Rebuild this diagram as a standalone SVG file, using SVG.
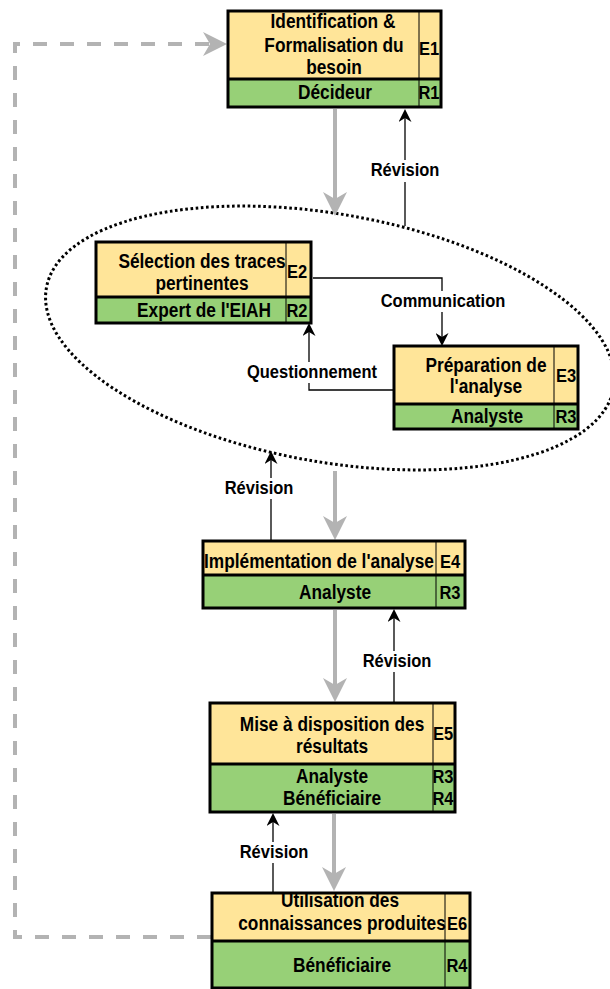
<svg xmlns="http://www.w3.org/2000/svg" width="610" height="989" viewBox="0 0 610 989">
  <style>
    .ey { fill: #FFE599; }
    .eg { fill: #97D077; }
    .frame { fill: none; stroke: #000; stroke-width: 3; }
    .sep { stroke: #000; stroke-width: 3; }
    .div { stroke: #000; stroke-width: 1; }
    .t { font-family: "Liberation Sans", Arial, Helvetica, sans-serif; font-weight: bold; font-size: 17.3px; text-anchor: middle; fill: #000; }
    .c { font-family: "Liberation Sans", Arial, Helvetica, sans-serif; font-weight: bold; font-size: 16.5px; text-anchor: middle; fill: #000; }
    .lbl { font-family: "Liberation Sans", Arial, Helvetica, sans-serif; font-weight: bold; font-size: 16.5px; text-anchor: middle; fill: #000; }
    .bg { fill: #fff; }
    .flow { fill: none; stroke: #000; stroke-width: 1.3; }
    .main { fill: none; stroke: #b3b3b3; stroke-width: 4; }
    .loop { fill: none; stroke: #b3b3b3; stroke-width: 4; stroke-dasharray: 14 13; }
    .cluster { fill: none; stroke: #000; stroke-width: 3; stroke-dasharray: 2.6 2.6; }
  </style>
  <defs>
    <marker id="ah" markerUnits="userSpaceOnUse" markerWidth="13" markerHeight="13" viewBox="0 0 13 13" refX="4" refY="6.5" orient="auto">
      <path d="M0,0 L13,6.5 L0,13 L4,6.5 Z" fill="#000"/>
    </marker>
    <marker id="ahg" markerUnits="userSpaceOnUse" markerWidth="24" markerHeight="24" viewBox="0 0 24 24" refX="7" refY="12" orient="auto">
      <path d="M0,0 L24,12 L0,24 L7,12 Z" fill="#b3b3b3"/>
    </marker>
  </defs>
  <rect width="610" height="989" fill="#fff"/>

  <!-- dotted boundary round steps E2 and E3 -->
  <g id="cluster-e2-e3">
    <ellipse class="cluster" cx="330" cy="338" rx="288" ry="124" transform="rotate(10 330 338)"/>
  </g>

  <g id="connectors">
    <!-- feedback loop from E6 back to E1 -->
    <path class="loop" d="M211,937 H15 V44 H210" marker-end="url(#ahg)"/>
    <!-- main sequence -->
    <path class="main" d="M335,109 V199" marker-end="url(#ahg)"/>
    <path class="main" d="M335,471 V523" marker-end="url(#ahg)"/>
    <path class="main" d="M335,610 V685" marker-end="url(#ahg)"/>
    <path class="main" d="M334,814 V874" marker-end="url(#ahg)"/>
    <!-- revision links -->
    <path class="flow" d="M405,226 V118" marker-end="url(#ah)"/>
    <rect class="bg" x="369" y="160" width="73" height="22"/>
    <text class="lbl" transform="translate(405,176) scale(1,1.1)">Révision</text>

    <path class="flow" d="M271,540 V460" marker-end="url(#ah)"/>
    <rect class="bg" x="223" y="478" width="73" height="21"/>
    <text class="lbl" transform="translate(259,494) scale(1,1.1)">Révision</text>

    <path class="flow" d="M394,702 V618" marker-end="url(#ah)"/>
    <rect class="bg" x="361" y="651" width="73" height="21"/>
    <text class="lbl" transform="translate(397,667) scale(1,1.1)">Révision</text>

    <path class="flow" d="M273,892 V822" marker-end="url(#ah)"/>
    <rect class="bg" x="238" y="842" width="73" height="21"/>
    <text class="lbl" transform="translate(274,858) scale(1,1.1)">Révision</text>

    <!-- links inside the boundary -->
    <path class="flow" d="M313,278 H442 V337" marker-end="url(#ah)"/>
    <rect class="bg" x="378" y="291" width="130" height="21"/>
    <text class="lbl" transform="translate(443,307) scale(1,1.1)">Communication</text>

    <path class="flow" d="M393,390 H309 V332" marker-end="url(#ah)"/>
    <rect class="bg" x="245" y="362" width="134" height="21"/>
    <text class="lbl" transform="translate(312,378) scale(1,1.1)">Questionnement</text>
  </g>

  <g id="node-e1">
    <rect class="ey" x="228" y="11" width="213" height="68"/>
    <rect class="eg" x="228" y="79" width="213" height="28"/>
    <line class="div" x1="419" y1="11" x2="419" y2="107"/>
    <line class="sep" x1="228" y1="79" x2="441" y2="79"/>
    <rect class="frame" x="228" y="11" width="213" height="96"/>
    <text class="t" transform="translate(333,28) scale(1,1.12)"><tspan x="0" y="0">Identification &amp;</tspan><tspan x="1" y="21.4">Formalisation du</tspan><tspan x="1" y="41.1">besoin</tspan></text>
    <text class="t" transform="translate(335,99) scale(1,1.12)">Décideur</text>
    <text class="c" transform="translate(429,55) scale(1,1.1)">E1</text>
    <text class="c" transform="translate(429,99) scale(1,1.1)">R1</text>
  </g>

  <g id="node-e2">
    <rect class="ey" x="96" y="242" width="215" height="55"/>
    <rect class="eg" x="96" y="297" width="215" height="26"/>
    <line class="div" x1="286" y1="242" x2="286" y2="323"/>
    <line class="sep" x1="96" y1="297" x2="311" y2="297"/>
    <rect class="frame" x="96" y="242" width="215" height="81"/>
    <text class="t" transform="translate(202,268) scale(1,1.12)"><tspan x="0" y="0">Sélection des traces</tspan><tspan x="0" y="19.6">pertinentes</tspan></text>
    <text class="t" transform="translate(204,317) scale(1,1.12)">Expert de l'EIAH</text>
    <text class="c" transform="translate(297,278) scale(1,1.1)">E2</text>
    <text class="c" transform="translate(297,317) scale(1,1.1)">R2</text>
  </g>

  <g id="node-e3">
    <rect class="ey" x="394" y="346" width="184" height="58"/>
    <rect class="eg" x="394" y="404" width="184" height="25"/>
    <line class="div" x1="554" y1="346" x2="554" y2="429"/>
    <line class="sep" x1="394" y1="404" x2="578" y2="404"/>
    <rect class="frame" x="394" y="346" width="184" height="83"/>
    <text class="t" transform="translate(486,372) scale(1,1.12)"><tspan x="0" y="0">Préparation de</tspan><tspan x="0" y="18.8">l'analyse</tspan></text>
    <text class="t" transform="translate(487,423) scale(1,1.12)">Analyste</text>
    <text class="c" transform="translate(566,382) scale(1,1.1)">E3</text>
    <text class="c" transform="translate(566,423) scale(1,1.1)">R3</text>
  </g>

  <g id="node-e4">
    <rect class="ey" x="203" y="541" width="262" height="34"/>
    <rect class="eg" x="203" y="575" width="262" height="33"/>
    <line class="div" x1="436" y1="541" x2="436" y2="608"/>
    <line class="sep" x1="203" y1="575" x2="465" y2="575"/>
    <rect class="frame" x="203" y="541" width="262" height="67"/>
    <text class="t" transform="translate(319,568) scale(1,1.12)">Implémentation de l'analyse</text>
    <text class="t" transform="translate(335,599) scale(1,1.12)">Analyste</text>
    <text class="c" transform="translate(450,568) scale(1,1.1)">E4</text>
    <text class="c" transform="translate(450,599) scale(1,1.1)">R3</text>
  </g>

  <g id="node-e5">
    <rect class="ey" x="210" y="703" width="245" height="61"/>
    <rect class="eg" x="210" y="764" width="245" height="48"/>
    <line class="div" x1="433" y1="703" x2="433" y2="812"/>
    <line class="sep" x1="210" y1="764" x2="455" y2="764"/>
    <rect class="frame" x="210" y="703" width="245" height="109"/>
    <text class="t" transform="translate(332,731) scale(1,1.12)"><tspan x="0" y="0">Mise à disposition des</tspan><tspan x="0" y="19.6">résultats</tspan></text>
    <text class="t" transform="translate(332,783) scale(1,1.12)"><tspan x="0" y="0">Analyste</tspan><tspan x="0" y="19.6">Bénéficiaire</tspan></text>
    <text class="c" transform="translate(443,740) scale(1,1.1)">E5</text>
    <text class="c" transform="translate(443,783) scale(1,1.1)"><tspan x="0" y="0">R3</tspan><tspan x="0" y="20">R4</tspan></text>
  </g>

  <g id="node-e6">
    <rect class="ey" x="212" y="893" width="258" height="48"/>
    <rect class="eg" x="212" y="941" width="258" height="47"/>
    <line class="div" x1="445" y1="893" x2="445" y2="988"/>
    <line class="sep" x1="212" y1="941" x2="470" y2="941"/>
    <rect class="frame" x="212" y="893" width="258" height="95"/>
    <text class="t" transform="translate(340,907) scale(1,1.12)"><tspan x="0" y="0">Utilisation des</tspan><tspan x="2" y="20.5">connaissances produites</tspan></text>
    <text class="t" transform="translate(342,972) scale(1,1.12)">Bénéficiaire</text>
    <text class="c" transform="translate(457,930) scale(1,1.1)">E6</text>
    <text class="c" transform="translate(457,972) scale(1,1.1)">R4</text>
  </g>
</svg>
